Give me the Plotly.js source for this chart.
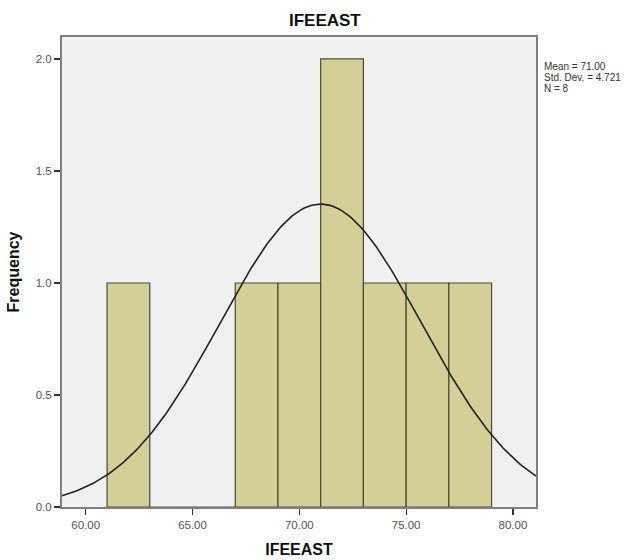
<!DOCTYPE html>
<html>
<head>
<meta charset="utf-8">
<script src="https://cdn.plot.ly/plotly-3.0.1.min.js"></script>
<style>html,body{margin:0;padding:0;background:#fff;}#chart{width:642px;height:560px;}</style>
</head>
<body>
<div id="chart"></div>
<script>
// Histogram bins (centers) and counts
var binCenters = [62, 64, 66, 68, 70, 72, 74, 76, 78];
var binCounts  = [1, 0, 0, 1, 1, 2, 1, 1, 1];
var binWidth = 2;
// Stated summary statistics
var meanVal = 71.00;
var stdDev = 4.721;
var nVal = 8;
var statLines = ['Mean = 71.00', 'Std. Dev. = 4.721', 'N = 8'];
var xTickVals = [60, 65, 70, 75, 80];
var yTickVals = [0, 0.5, 1.0, 1.5, 2.0];

// Fitted normal curve from stated mean / sd / N
var curveX = [], curveY = [];
for (var i = 0; i <= 200; i++) {
  var x = 58.89 + (81.08 - 58.89) * i / 200;
  var z = (x - meanVal) / stdDev;
  curveX.push(x);
  curveY.push(nVal * binWidth * Math.exp(-0.5 * z * z) / (stdDev * Math.sqrt(2 * Math.PI)));
}

var traces = [
  {
    type: 'bar', x: binCenters, y: binCounts, width: binWidth,
    marker: {color: '#d4cf96', line: {color: '#4a4a3a', width: 1.2}},
    hoverinfo: 'x+y', showlegend: false
  },
  {
    type: 'scatter', mode: 'lines', x: curveX, y: curveY,
    line: {color: '#222222', width: 1.6}, showlegend: false, hoverinfo: 'skip'
  }
];

var statAnnotations = statLines.map(function (t, k) {
  return {
    xref: 'paper', yref: 'paper', x: 1.013, y: 1 - (29 + 11.5 * k) / 470,
    xanchor: 'left', yanchor: 'middle', align: 'left', showarrow: false,
    text: t, font: {size: 10, color: '#333'}
  };
});

var layout = {
  width: 642, height: 560,
  margin: {l: 62, r: 106, t: 37, b: 53},
  paper_bgcolor: '#ffffff', plot_bgcolor: '#f0f0f0',
  font: {family: 'Liberation Sans, Arial, sans-serif', size: 11, color: '#444'},
  title: {text: '<b>IFEEAST</b>', font: {size: 17, color: '#111'}, x: 356 / 642, xanchor: 'center', xref: 'paper', y: 1 - 20 / 560, yanchor: 'middle'},
  bargap: 0,
  xaxis: {
    range: [58.89, 81.08], tickvals: xTickVals, tickformat: '.2f',
    ticks: 'outside', ticklen: 6, tickcolor: '#333', tickwidth: 1.2,
    showgrid: false, zeroline: false,
    showline: true, linecolor: '#808080', linewidth: 2, mirror: true,
    tickfont: {size: 11.5, color: '#555'},
    title: {text: '<b>IFEEAST</b>', font: {size: 16, color: '#111'}, standoff: 14}
  },
  yaxis: {
    range: [0, 2.098], tickvals: yTickVals, tickformat: '.1f',
    ticks: 'outside', ticklen: 6, tickcolor: '#333', tickwidth: 1.2,
    showgrid: false, zeroline: false,
    showline: true, linecolor: '#808080', linewidth: 2, mirror: true,
    tickfont: {size: 11.5, color: '#555'},
    title: {text: '<b>Frequency</b>', font: {size: 16, color: '#111'}, standoff: 12}
  },
  annotations: statAnnotations
};

Plotly.newPlot('chart', traces, layout, {displayModeBar: false, staticPlot: true});
</script>
</body>
</html>
